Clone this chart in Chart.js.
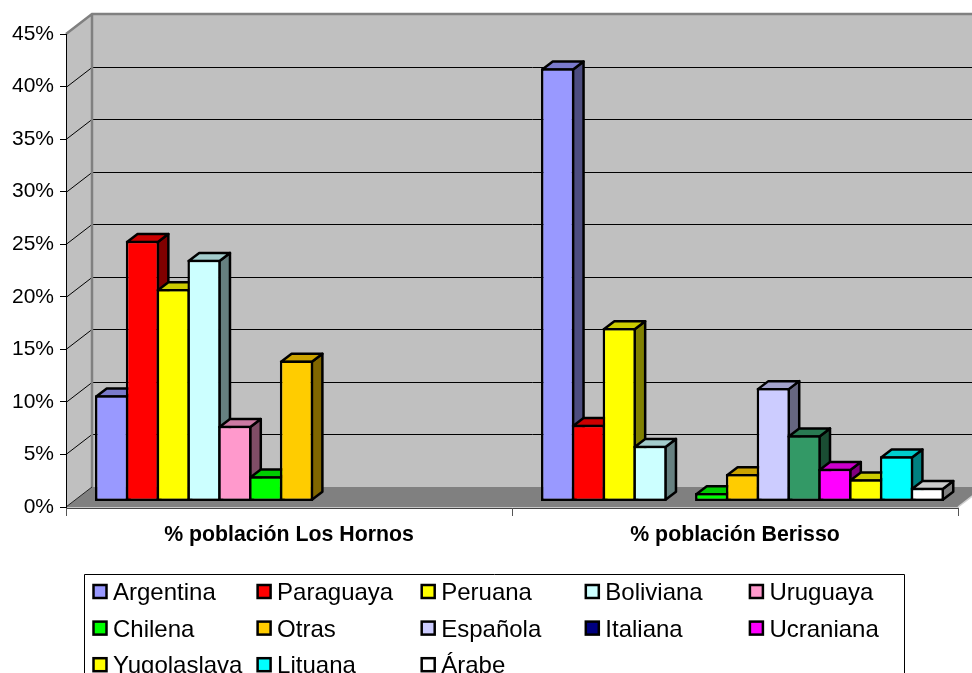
<!DOCTYPE html>
<html>
<head>
<meta charset="utf-8">
<title>Población por nacionalidad</title>
<script src="https://cdn.jsdelivr.net/npm/chart.js@4/dist/chart.umd.js"></script>
<style>
	html, body { margin: 0; padding: 0; background: #fff; overflow: hidden; }
	canvas { display: block; }
</style>
</head>
<body>
<canvas id="myChart" width="972" height="673"></canvas>
<script>
const categories = ['% población Los Hornos', '% población Berisso'];
const yTicks = [0, 5, 10, 15, 20, 25, 30, 35, 40, 45];
const seriesNames = [
	'Argentina', 'Paraguaya', 'Peruana', 'Boliviana', 'Uruguaya',
	'Chilena', 'Otras', 'Española', 'Italiana', 'Ucraniana',
	'Yugolaslava', 'Lituana', 'Árabe'
];
const losHornos = [10.1, 24.8, 20.2, 23.0, 7.2, 2.4, 13.4, null, null, null, null, null, null];
const berisso = [41.2, 7.3, 16.5, 5.3, null, 0.8, 2.6, 10.8, 6.3, 3.1, 2.1, 4.3, 1.3];
const barColors = [
	'#9999ff', '#ff0000', '#ffff00', '#ccffff', '#ff99cc',
	'#00ff00', '#ffcc00', '#ccccff', '#339966', '#ff00ff',
	'#ffff00', '#00ffff', '#ffffff'
];
const legendColors = [
	'#9999ff', '#ff0000', '#ffff00', '#ccffff', '#ff99cc',
	'#00ff00', '#ffcc00', '#ccccff', '#000080', '#ff00ff',
	'#ffff00', '#00ffff', '#ffffff'
];

const FONT = '"Liberation Sans", Arial, sans-serif';
// wall depth, bar depth and where the bars sit inside the floor
const WALL = { dx: 26, dy: -20 };
const BAR = { dx: 10.5, dy: -8, shiftX: 7.5, shiftY: -5.6, line: 2.5 };

function shade(hex, k){
	var n = parseInt(hex.slice(1), 16);
	var r = Math.round((n >> 16 & 255) * k);
	var g = Math.round((n >> 8 & 255) * k);
	var b = Math.round((n & 255) * k);
	return 'rgb(' + r + ',' + g + ',' + b + ')';
}

function poly(ctx, pts, fill, stroke, lw){
	ctx.beginPath();
	ctx.moveTo(pts[0][0], pts[0][1]);
	for (var i = 1; i < pts.length; i++) ctx.lineTo(pts[i][0], pts[i][1]);
	ctx.closePath();
	if (fill) { ctx.fillStyle = fill; ctx.fill(); }
	if (stroke) { ctx.strokeStyle = stroke; ctx.lineWidth = lw; ctx.stroke(); }
}

const wallsPlugin = {
	id: 'walls',
	beforeDraw(chart){
		var ctx = chart.ctx, y = chart.scales.y, a = chart.chartArea;
		var l = a.left, r = a.right, t = a.top, b = a.bottom;
		var dx = WALL.dx, dy = WALL.dy;
		ctx.save();
		poly(ctx, [[l + dx, t + dy], [r + dx, t + dy], [r + dx, b + dy], [l + dx, b + dy]], '#c0c0c0');
		poly(ctx, [[l, b], [l, t], [l + dx, t + dy], [l + dx, b + dy]], '#c0c0c0');
		poly(ctx, [[l, b], [l + dx, b + dy], [r + dx, b + dy], [r, b]], '#808080');

		ctx.strokeStyle = '#000';
		ctx.lineWidth = 1;
		yTicks.forEach(function(v){
			if (v === 0 || v === 45) return;
			var py = Math.round(y.getPixelForValue(v)) + 0.5;
			ctx.beginPath();
			ctx.moveTo(l, py);
			ctx.lineTo(l + dx, py + dy);
			ctx.lineTo(r + dx, py + dy);
			ctx.stroke();
		});

		ctx.strokeStyle = '#808080';
		ctx.lineWidth = 2.5;
		ctx.beginPath();
		ctx.moveTo(l, t);
		ctx.lineTo(l + dx, t + dy);
		ctx.lineTo(r + dx, t + dy);
		ctx.moveTo(l + dx, t + dy);
		ctx.lineTo(l + dx, b + dy);
		ctx.stroke();

		// floor edges: dark on the left, light on the right and along the front
		ctx.lineWidth = 1;
		ctx.strokeStyle = '#222';
		ctx.beginPath();
		ctx.moveTo(l, b);
		ctx.lineTo(l + dx, b + dy);
		ctx.stroke();
		ctx.strokeStyle = '#d0d0d0';
		ctx.lineWidth = 1.5;
		ctx.beginPath();
		ctx.moveTo(r, b);
		ctx.lineTo(r + dx, b + dy);
		ctx.stroke();
		ctx.strokeStyle = '#444';
		ctx.lineWidth = 1;
		ctx.beginPath();
		ctx.moveTo(l, b + 1.5);
		ctx.lineTo(r, b + 1.5);
		ctx.stroke();
		ctx.restore();
	}
};

// bars go left to right so each front face covers the side of the one before it
const bars3dPlugin = {
	id: 'bars3d',
	beforeDatasetsDraw(chart){
		var ctx = chart.ctx, inset = BAR.line / 2;
		ctx.save();
		ctx.translate(BAR.shiftX, BAR.shiftY);
		chart.data.datasets.forEach(function(ds, i){
			var meta = chart.getDatasetMeta(i);
			meta.data.forEach(function(el, j){
				if (ds.data[j] === null) return;
				var p = el.getProps(['x', 'y', 'base', 'width'], true);
				var x0 = p.x - p.width / 2 + inset, x1 = p.x + p.width / 2 - inset;
				var top = p.y + inset, bot = p.base - inset;
				var dx = BAR.dx, dy = BAR.dy;
				ctx.lineJoin = 'round';
				poly(ctx, [[x1, top], [x1 + dx, top + dy], [x1 + dx, bot + dy], [x1, bot]], shade(ds.backgroundColor, 0.5), '#000', BAR.line);
				poly(ctx, [[x0, top], [x0 + dx, top + dy], [x1 + dx, top + dy], [x1, top]], shade(ds.backgroundColor, 0.8), '#000', BAR.line);
			});
			meta.controller.draw();
		});
		ctx.restore();
		return false;
	}
};

const legendPlugin = {
	id: 'seriesLegend',
	afterDraw(chart){
		var ctx = chart.ctx;
		ctx.save();
		ctx.strokeStyle = '#000';
		ctx.lineWidth = 1;
		ctx.beginPath();
		ctx.moveTo(84.5, 680);
		ctx.lineTo(84.5, 574.5);
		ctx.lineTo(904.5, 574.5);
		ctx.lineTo(904.5, 680);
		ctx.stroke();
		ctx.font = '24px ' + FONT;
		ctx.textBaseline = 'middle';
		seriesNames.forEach(function(name, i){
			var col = i % 5, row = Math.floor(i / 5);
			var x = 93.5 + col * 164.1;
			var y = 591.5 + row * 36.6;
			ctx.fillStyle = legendColors[i];
			ctx.strokeStyle = '#000';
			ctx.lineWidth = 2.5;
			ctx.fillRect(x, y - 6.5, 13, 13);
			ctx.strokeRect(x, y - 6.5, 13, 13);
			ctx.fillStyle = '#000';
			ctx.fillText(name, x + 19.5, y + 2);
		});
		ctx.restore();
	}
};

function createChart(){
	var chart = document.getElementById('myChart');

	const datasets = seriesNames.map(function(name, i){
		return {
			label: name,
			data: [losHornos[i], berisso[i]],
			backgroundColor: barColors[i],
			borderColor: '#000',
			borderWidth: BAR.line,
			borderSkipped: false,
			barPercentage: 1.081,
			categoryPercentage: 0.898
		};
	});

	const config = {
		type: 'bar',
		data: { labels: categories, datasets: datasets },
		options: {
			responsive: false,
			animation: false,
			layout: {
				autoPadding: false,
				padding: { left: 0, right: 14, top: 34, bottom: 0 }
			},
			plugins: {
				legend: { display: false },
				tooltip: { enabled: false }
			},
			scales: {
				x: {
					grid: { offset: true, drawOnChartArea: false, color: '#555', tickLength: 9 },
					border: { color: '#c8c8c8', width: 1 },
					ticks: {
						color: '#000',
						padding: 6,
						maxRotation: 0,
						font: { family: FONT, size: 21.3, weight: 'bold' }
					},
					afterFit: function(scale){ scale.height = 166; }
				},
				y: {
					min: 0,
					max: 45,
					grid: { drawOnChartArea: false, color: '#000', tickLength: 6 },
					border: { color: '#000', width: 1 },
					ticks: {
						stepSize: 5,
						color: '#000',
						padding: 6,
						font: { family: FONT, size: 21 },
						callback: function(v){ return v + '%'; }
					},
					afterFit: function(scale){ scale.width = 66; }
				}
			}
		},
		plugins: [wallsPlugin, bars3dPlugin, legendPlugin]
	};

	const myChart = new Chart(chart, config);
}

document.addEventListener("DOMContentLoaded", createChart);
</script>
</body>
</html>
